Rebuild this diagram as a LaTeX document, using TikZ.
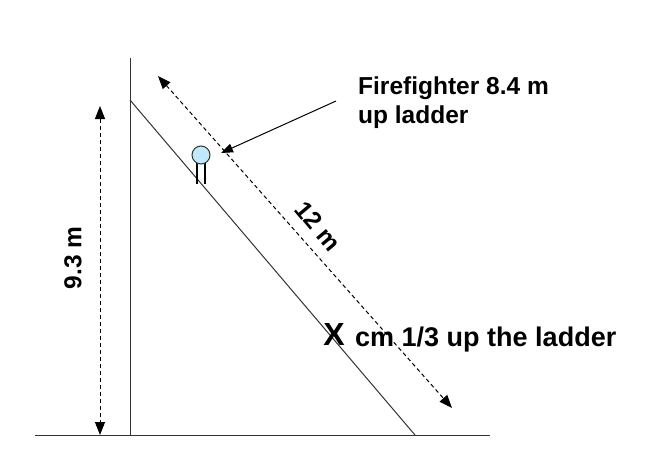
\documentclass[tikz,border=0pt]{standalone}
\usepackage{fontspec}
\setmainfont{Liberation Sans}
\usetikzlibrary{arrows.meta}
\begin{document}
\begin{tikzpicture}[x=1pt,y=-1pt,
  lbl/.style={font=\fontsize{24.5}{29}\selectfont\bfseries, inner sep=0pt},
  dim/.style={dashed, dash pattern=on 4pt off 3pt, line width=1pt, {Triangle[length=13pt,width=10pt]}-{Triangle[length=13pt,width=10pt]}},
  ln/.style={line width=1pt, draw=black!80}]
\useasboundingbox (0,0) rectangle (661,469);
\coordinate (wt) at (130,58); \coordinate (wb) at (130,435);
\coordinate (g1) at (35,435); \coordinate (g2) at (490,435);
\coordinate (lt) at (130,100); \coordinate (lb) at (415,435);
\draw[ln] (wt) -- (wb);
\draw[ln] (g1) -- (g2);
\draw[ln] (lt) -- (lb);
\coordinate (d1) at (158,76); \coordinate (d2) at (452,408);
\draw[dim] (d1) -- (d2);
\coordinate (v1) at (100,106); \coordinate (v2) at (100,435);
\draw[dim] (v1) -- (v2);
\draw[line width=2.5pt] (197,163) -- (197,184) (205,163) -- (205,184);
\node[circle, draw=black!80, fill=cyan!25!white, line width=1pt, minimum size=18pt, inner sep=0pt] (ff) at (201,155) {};
\node[lbl, anchor=west, align=left] (t1) at (358,103) {Firefighter 8.4 m\\up ladder};
\coordinate (ps) at (336,101); \coordinate (pe) at (221,153);
\draw[line width=1pt, -{Triangle[length=12pt,width=9pt]}] (ps) -- (pe);
\node[lbl, rotate=-50] (t12) at (318,226) {12 m};
\node[lbl, rotate=90] (t93) at (73,258) {9.3 m};
\node[font=\fontsize{32}{36}\selectfont\bfseries, inner sep=0pt] (x) at (334,334) {X};
\node[lbl, font=\fontsize{27}{30}\selectfont\bfseries, anchor=west] (t3) at (355,340) {cm 1/3 up the ladder};
\end{tikzpicture}
\end{document}
